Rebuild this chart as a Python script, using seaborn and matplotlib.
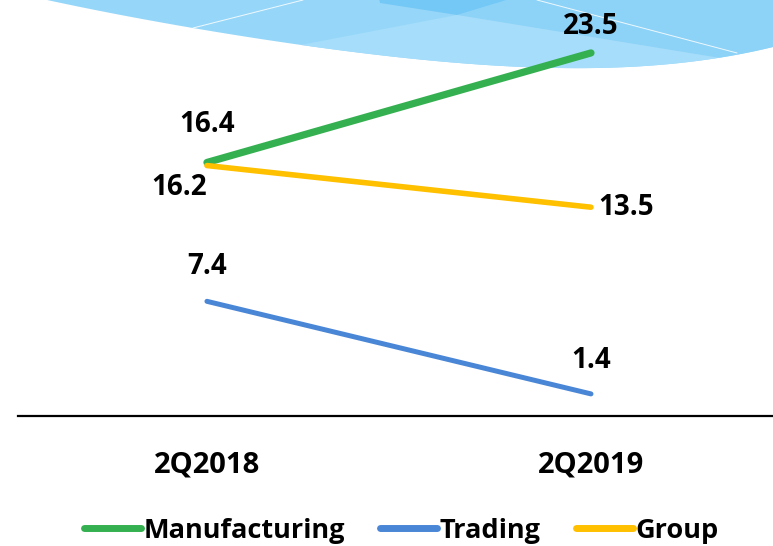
import pandas as pd
import numpy as np
import seaborn as sns
import matplotlib.pyplot as plt
from matplotlib.patches import Polygon

# Data
periods = ['2Q2018', '2Q2019']
manufacturing = [16.4, 23.5]
trading = [7.4, 1.4]
group = [16.2, 13.5]

segments = ['Manufacturing', 'Trading', 'Group']
colors = {'Manufacturing': '#34B050', 'Trading': '#4A86D6', 'Group': '#FFC000'}
widths = {'Manufacturing': 5.2, 'Trading': 3.6, 'Group': 4.0}

df = pd.DataFrame({
    'period': periods * 3,
    'segment': np.repeat(segments, 2),
    'value': manufacturing + trading + group,
})

# label offsets in points (dx, dy)
offsets = {
    ('Manufacturing', 0): (0, 27),
    ('Manufacturing', 1): (0, 19),
    ('Trading', 0): (0, 25),
    ('Trading', 1): (0, 24),
    ('Group', 0): (-20, -16),
    ('Group', 1): (25, 0),
}

sns.set_theme(style='white')
plt.rcParams['font.family'] = ['Open Sans', 'DejaVu Sans']
plt.rcParams['text.color'] = 'black'
plt.rcParams['xtick.color'] = 'black'

fig = plt.figure(figsize=(7.73, 5.46), dpi=100)

# background decoration: bottom of the blue slide shape (pixel coords)
bg = fig.add_axes([0, 0, 1, 1], zorder=0)
bg.set_xlim(0, 773)
bg.set_ylim(546, 0)
bg.axis('off')
edge_x = [47, 193, 300, 400, 480, 580, 680, 773]
edge_y = [0, 28, 45, 57, 65, 68, 63, 47]
coef = np.polyfit(edge_x, edge_y, 4)
xx = np.linspace(40, 773, 300)
yy = np.clip(np.polyval(coef, xx), -5, None)
shape = Polygon(np.column_stack([np.r_[xx, 773, 40], np.r_[yy, -5, -5]]),
                facecolor='#96D7F9', edgecolor='none')
bg.add_patch(shape)
for pts, col in [
    ([(457, 15), (523, -5), (773, -5), (773, 120), (720, 120), (720, 58)], '#8DD3F8'),
    ([(290, 47), (457, 15), (720, 58), (720, 120), (290, 120)], '#A6DDFA'),
    ([(378, -5), (380, 3), (457, 15), (523, -5)], '#74C8F5'),
]:
    p = Polygon(pts, facecolor=col, edgecolor='none')
    bg.add_patch(p)
    p.set_clip_path(shape)
for xs, ys in [([193, 303], [28, 0]), ([537, 737], [0, 53])]:
    ln, = bg.plot(xs, ys, color='white', lw=0.7, alpha=0.85)
    ln.set_clip_path(shape)

ax = fig.add_axes([18 / 773, 1 - 415.5 / 546, 755 / 773, 415.5 / 546], zorder=1)
ax.patch.set_alpha(0)

sns.lineplot(data=df, x='period', y='value', hue='segment', palette=colors,
             hue_order=segments, sort=False, ax=ax, legend=False)
for line, seg in zip(ax.lines, segments):
    line.set_linewidth(widths[seg])
    line.set_solid_capstyle('round')

for seg in segments:
    vals = df[df['segment'] == seg]['value'].tolist()
    for i, v in enumerate(vals):
        dx, dy = offsets[(seg, i)]
        ax.annotate(f'{v:.1f}', (i, v), xytext=(dx, dy), textcoords='offset points',
                    ha='center', va='center', fontsize=20, fontweight='bold', color='black')

ax.set_xlim(-0.492, 1.474)
ax.set_ylim(0, 26.93)
ax.set_xlabel('')
ax.set_ylabel('')
ax.set_yticks([])
ax.tick_params(axis='x', length=0, pad=25, labelsize=21, labelcolor='black')
for lab in ax.get_xticklabels():
    lab.set_fontweight('bold')
for s in ['top', 'right', 'left']:
    ax.spines[s].set_visible(False)
ax.spines['bottom'].set_color('black')
ax.spines['bottom'].set_linewidth(1.6)

handles = [plt.Line2D([], [], color=colors[s], lw=5, solid_capstyle='round') for s in segments]
leg = fig.legend(handles, segments, loc='center', bbox_to_anchor=(0.519, 0.028), ncol=3,
                 frameon=False, handlelength=2.1, handletextpad=0.1, columnspacing=1.3,
                 prop={'family': ['Open Sans', 'DejaVu Sans'], 'weight': 'bold', 'size': 19.5})
for t in leg.get_texts():
    t.set_color('black')

fig.savefig('out.png', dpi=100)
